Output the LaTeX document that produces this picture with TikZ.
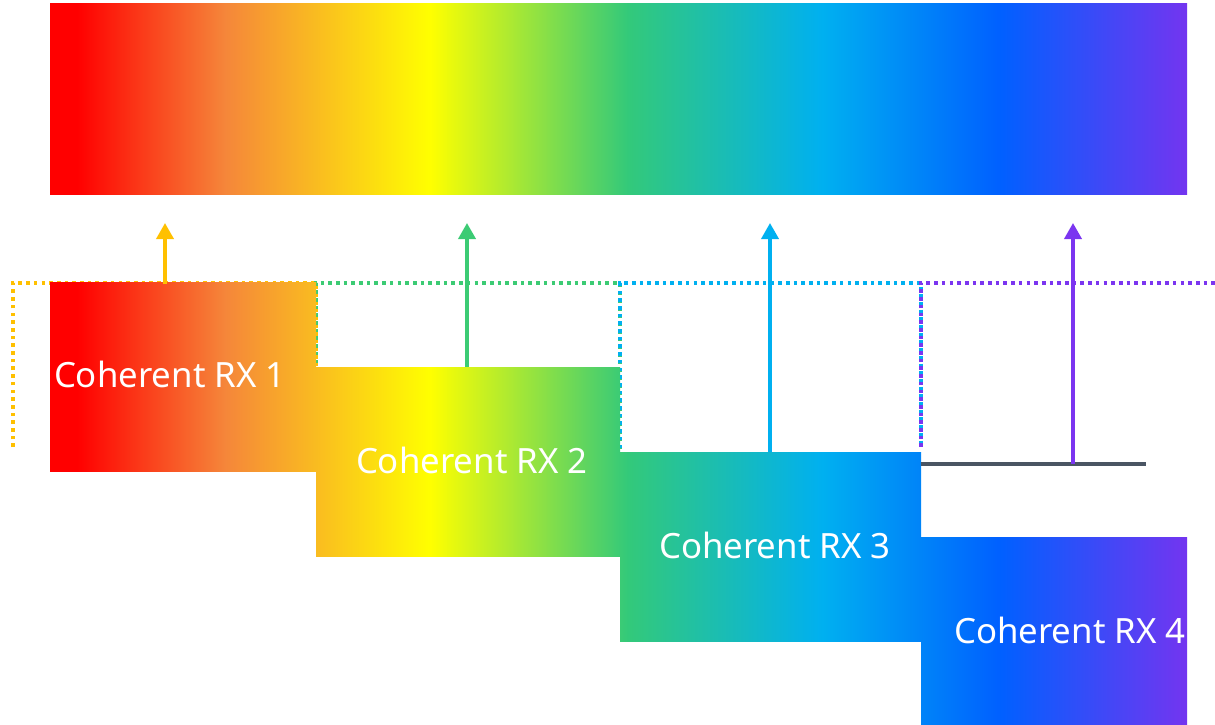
\documentclass[tikz,border=0pt]{standalone}
\usepackage{fontspec}
\setmainfont{Noto Sans}
\usetikzlibrary{arrows.meta}
\definecolor{sred}{HTML}{FF0000}
\definecolor{sorange}{HTML}{F5863A}
\definecolor{syellow}{HTML}{FFFF00}
\definecolor{sgreen}{HTML}{33C97A}
\definecolor{scyan}{HTML}{00B0F0}
\definecolor{sblue}{HTML}{0060FF}
\definecolor{spurple}{HTML}{7335F0}
\definecolor{aorange}{HTML}{FFC000}
\definecolor{agreen}{HTML}{3CCB74}
\definecolor{acyan}{HTML}{00B0F0}
\definecolor{apurple}{HTML}{7B35F0}
\definecolor{gline}{HTML}{4A5563}
\pgfdeclarehorizontalshading{spectrum}{100bp}{color(0bp)=(sred); color(25bp)=(sred); color(26.2bp)=(sred); color(32.7bp)=(sorange); color(41.71bp)=(syellow); color(50.42bp)=(sgreen); color(58.95bp)=(scyan); color(66.78bp)=(sblue); color(75bp)=(spurple); color(100bp)=(spurple)}
\begin{document}
\begin{tikzpicture}[x=1pt,y=-1pt,
  dotline/.style={line width=3.8pt, dash pattern=on 3.6pt off 4.1pt},
  uparrow/.style={line width=3.6pt, -{Triangle[width=17pt,length=16pt]}},
  lbl/.style={text=white, font=\fontsize{34.8}{40}\selectfont, inner sep=0pt, outer sep=0pt, anchor=base west}]
\useasboundingbox (0,0) rectangle (1215,725);
% spectrum bar
\coordinate (s1) at (50,4);
\coordinate (s2) at (1187,194);
\shade[shading=spectrum] (s1) rectangle (s2);
% dotted windows
\draw[dotline, aorange] (13,447) -- (13,283) -- (316,283) -- (316,367);
\draw[dotline, agreen, dash phase=3.85pt] (316,367) -- (316,283) -- (620,283) -- (620,452);
\draw[dotline, acyan, dash phase=3.85pt] (620,452) -- (620,283) -- (921,283) -- (921,447);
\draw[dotline, apurple] (921,447) -- (921,283) -- (1215,283);
% receiver boxes
\begin{scope}\clip (50,282) rectangle (316,471);
\shade[shading=spectrum] (50,282) rectangle (1187,471);\end{scope}
\begin{scope}\clip (316,367) rectangle (620,556);
\shade[shading=spectrum] (50,367) rectangle (1187,556);\end{scope}
\begin{scope}\clip (620,452) rectangle (921,641);
\shade[shading=spectrum] (50,452) rectangle (1187,641);\end{scope}
\begin{scope}\clip (921,537) rectangle (1187,725);
\shade[shading=spectrum] (50,537) rectangle (1187,725);\end{scope}
% baseline for RX4
\coordinate (g1) at (921,464);
\coordinate (g2) at (1146,464);
\draw[gline, line width=4pt] (g1) -- (g2);
% arrows
\coordinate (a1b) at (165,284); \coordinate (a1t) at (165,223);
\coordinate (a2b) at (467,367); \coordinate (a2t) at (467,223);
\coordinate (a3b) at (770,452); \coordinate (a3t) at (770,223);
\coordinate (a4b) at (1073,464); \coordinate (a4t) at (1073,223);
\draw[uparrow, aorange] (a1b) -- (a1t);
\draw[uparrow, agreen] (a2b) -- (a2t);
\draw[uparrow, acyan] (a3b) -- (a3t);
\draw[uparrow, apurple] (a4b) -- (a4t);
% labels
\node[lbl] (t1) at (54,387) {Coherent RX 1};
\node[lbl] (t2) at (356,473) {Coherent RX 2};
\node[lbl] (t3) at (659,558) {Coherent RX 3};
\node[lbl] (t4) at (954,643) {Coherent RX 4};
\end{tikzpicture}
\end{document}
